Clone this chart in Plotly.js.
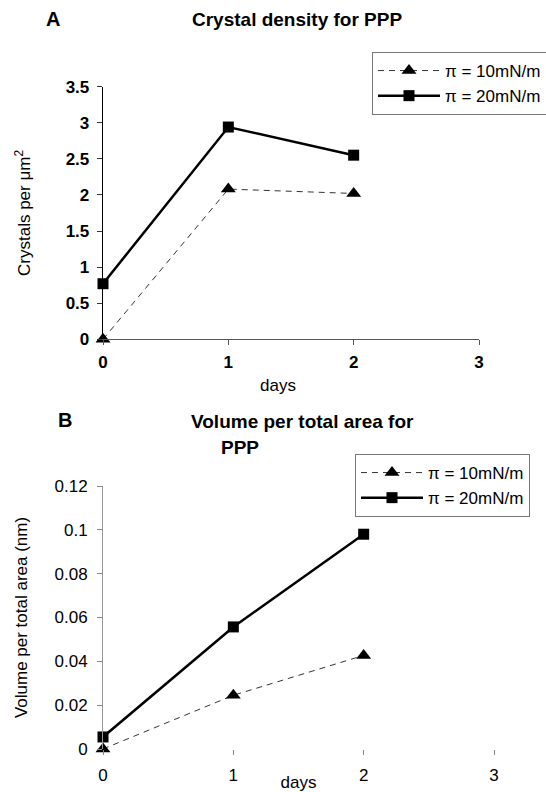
<!DOCTYPE html>
<html><head><meta charset="utf-8">
<script src="https://cdn.plot.ly/plotly-3.0.1.min.js"></script>
<style>html,body{margin:0;padding:0;background:#fff}</style>
</head><body>
<div id="chart" style="width:546px;height:792px"></div>
<script>
// Data
const days = [0, 1, 2];
const legendLabels = ['\u03c0 = 10mN/m', '\u03c0 = 20mN/m'];
const densityLow = [0, 2.08, 2.02];     // pi = 10 mN/m
const densityHigh = [0.77, 2.94, 2.55]; // pi = 20 mN/m
const volumeLow = [0, 0.0245, 0.0427];
const volumeHigh = [0.0055, 0.0557, 0.098];
const xTicks = [0, 1, 2, 3];
const yTicksA = [0, 0.5, 1, 1.5, 2, 2.5, 3, 3.5];
const yTicksB = [0, 0.02, 0.04, 0.06, 0.08, 0.1, 0.12];

const FONT = 'Liberation Sans, Arial, sans-serif';
const W = 546, H = 792;
const px = v => v / W, py = v => 1 - v / H;

const dashLine = {color: '#333', width: 1, dash: '6px,5px'};
const solidLine = {color: '#000', width: 2.5};
const triMarker = {symbol: 'triangle-up', size: 13, color: '#000'};
const sqMarker = {symbol: 'square', size: 11, color: '#000'};

const traces = [
  {x: days, y: densityLow, name: legendLabels[0], mode: 'lines+markers', line: dashLine, marker: triMarker, xaxis: 'x', yaxis: 'y', legend: 'legend', cliponaxis: false},
  {x: days, y: densityHigh, name: legendLabels[1], mode: 'lines+markers', line: solidLine, marker: sqMarker, xaxis: 'x', yaxis: 'y', legend: 'legend', cliponaxis: false},
  {x: days, y: volumeLow, name: legendLabels[0], mode: 'lines+markers', line: dashLine, marker: triMarker, xaxis: 'x2', yaxis: 'y2', legend: 'legend2', cliponaxis: false},
  {x: days, y: volumeHigh, name: legendLabels[1], mode: 'lines+markers', line: solidLine, marker: sqMarker, xaxis: 'x2', yaxis: 'y2', legend: 'legend2', cliponaxis: false}
];

const legendBase = {
  bgcolor: '#fff', bordercolor: '#777', borderwidth: 1,
  font: {family: FONT, size: 17, color: '#000'},
  xanchor: 'left', yanchor: 'top', tracegroupgap: 0, itemwidth: 62,
  traceorder: 'normal'
};

const ann = (text, x, y, size, extra) => Object.assign({
  text: text, x: px(x), y: py(y), xref: 'paper', yref: 'paper',
  xanchor: 'center', yanchor: 'middle', showarrow: false,
  font: {family: FONT, size: size, color: '#000'}
}, extra || {});

const layout = {
  width: W, height: H,
  margin: {l: 0, r: 0, t: 0, b: 0, autoexpand: false},
  paper_bgcolor: '#fff', plot_bgcolor: '#fff',
  font: {family: FONT, size: 17, color: '#000'},
  showlegend: true,
  legend: Object.assign({}, legendBase, {x: px(372), y: py(52)}),
  legend2: Object.assign({}, legendBase, {x: px(355), y: py(454)}),
  xaxis: {
    domain: [px(103), px(479)], anchor: 'y', range: [0, 3],
    tickvals: xTicks, showgrid: false, zeroline: false,
    showline: true, linecolor: '#555', linewidth: 1,
    ticks: 'outside', ticklen: 5, tickcolor: '#555',
    ticklabelstandoff: 2,
    tickfont: {family: FONT, size: 17, weight: 'bold'}
  },
  yaxis: {
    domain: [py(339.3), py(86.6)], anchor: 'x', range: [0, 3.5],
    tickvals: yTicksA, showgrid: false, zeroline: false,
    showline: true, linecolor: '#000', linewidth: 1.3,
    ticks: 'outside', ticklen: 5, tickcolor: '#333',
    ticklabelstandoff: 4,
    tickfont: {family: FONT, size: 17, weight: 'bold'},
    title: {text: 'Crystals per \u03bcm<sup>2</sup>', font: {family: FONT, size: 17}, standoff: 30}
  },
  xaxis2: {
    domain: [px(103), px(494)], anchor: 'y2', range: [0, 3],
    tickvals: xTicks, showgrid: false, zeroline: false,
    showline: false,
    ticks: 'outside', ticklen: 5, tickcolor: '#888',
    ticklabelstandoff: 6,
    tickfont: {family: FONT, size: 17},
    title: {text: 'days', font: {family: FONT, size: 17}, standoff: 3}
  },
  yaxis2: {
    domain: [py(749), py(486)], anchor: 'x2', range: [0, 0.12],
    tickvals: yTicksB, showgrid: false, zeroline: false,
    showline: true, linecolor: '#999', linewidth: 1,
    ticks: 'outside', ticklen: 5, tickcolor: '#888',
    ticklabelstandoff: 6,
    tickfont: {family: FONT, size: 17},
    title: {text: 'Volume per total area (nm)', font: {family: FONT, size: 17}, standoff: 22}
  },
  annotations: [
    ann('<b>A</b>', 53, 19, 20),
    ann('<b>Crystal density for PPP</b>', 297, 19, 19),
    ann('days', 278, 385, 17),
    ann('<b>B</b>', 65, 420, 20),
    ann('<b>Volume per total area for</b>', 302, 421, 19),
    ann('<b>PPP</b>', 240, 447, 19)
  ]
};

Plotly.newPlot('chart', traces, layout, {staticPlot: true, displayModeBar: false});
</script>
</body></html>
